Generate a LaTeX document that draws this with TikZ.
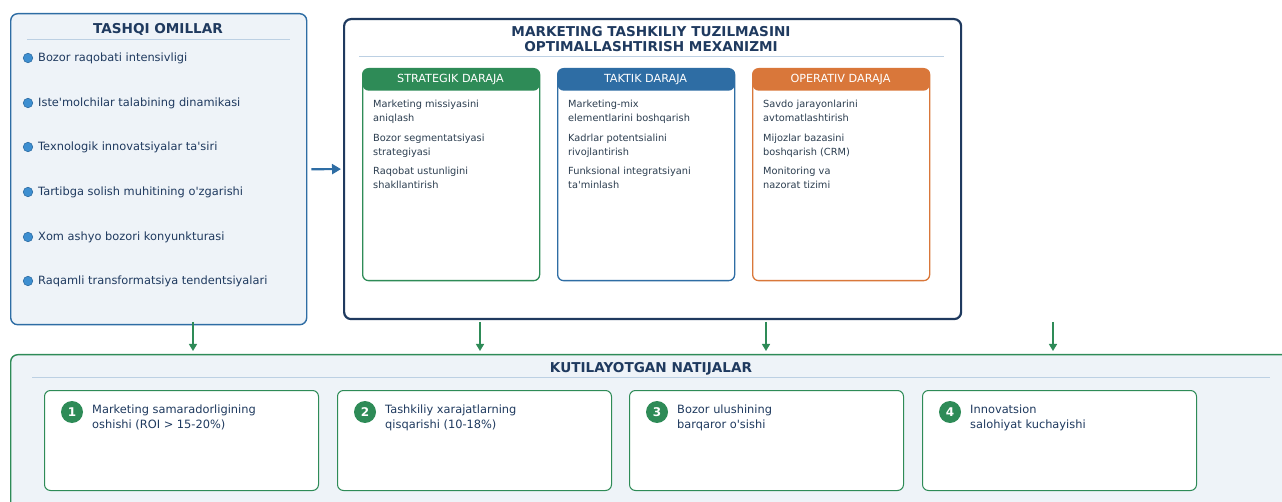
\documentclass[tikz,border=0pt]{standalone}
\usepackage{fontspec}
\setmainfont{DejaVu Sans}
\usetikzlibrary{arrows.meta}
\definecolor{cnavy}{HTML}{1F3A5F}
\definecolor{ctext}{HTML}{2C3E50}
\definecolor{cpanel}{HTML}{EEF3F8}
\definecolor{cblue}{HTML}{2E6DA4}
\definecolor{cgreen}{HTML}{2E8B57}
\definecolor{corange}{HTML}{D9773A}
\definecolor{cbullet}{HTML}{3D8FD1}
\definecolor{csep}{HTML}{BCD0E3}
\newcommand\ap{\textquotesingle}
\begin{document}
\begin{tikzpicture}[x=1pt,y=-1pt,
  panel/.style={rectangle, rounded corners=7pt, inner sep=0, anchor=north west, line width=1.4pt},
  ttl/.style={font=\fontsize{13.6}{15.5}\selectfont\bfseries, text=cnavy, inner sep=0, anchor=base, align=center},
  sepline/.style={draw=csep, line width=1pt},
  listitem/.style={font=\fontsize{11.4}{14}\selectfont, text=cnavy, inner sep=0, anchor=base west},
  bullet/.style={circle, fill=cbullet, draw=cblue, line width=0.6pt, minimum size=9.5pt, inner sep=0},
  lvl/.style={rectangle, rounded corners=6pt, draw=#1, line width=1.3pt, fill=white, anchor=north west,
    minimum width=177pt, minimum height=212pt, inner sep=0,
    path picture={\fill[#1] (path picture bounding box.north west) rectangle ([yshift=-22pt]path picture bounding box.north east);}},
  lvlhead/.style={font=\fontsize{11.2}{13}\selectfont, text=white, inner sep=0, anchor=base},
  lvlitem/.style={font=\fontsize{9.8}{14}\selectfont, text=ctext, inner sep=0, anchor=base west, align=left},
  card/.style={rectangle, rounded corners=6pt, draw=cgreen, line width=1pt, fill=white, anchor=north west,
    minimum width=274pt, minimum height=100pt, inner sep=0},
  num/.style={circle, fill=cgreen, minimum size=22pt, inner sep=0, text=white, font=\fontsize{12}{12}\selectfont\bfseries},
  cardtext/.style={font=\fontsize{11.4}{14}\selectfont, text=cnavy, anchor=base west, align=left, inner sep=0},
  garrow/.style={draw=cgreen, line width=1.4pt, -{Triangle[length=7pt,width=8pt]}},
  barrow/.style={draw=cblue, line width=2.2pt, -{Triangle[length=9pt,width=10pt]}}
]
\useasboundingbox (0,0) rectangle (1282,502);
\clip (0,0) rectangle (1282,502);

% ---------- left panel ----------
\node[panel, draw=cblue, fill=cpanel, minimum width=296pt, minimum height=311pt] (ext) at (10,13) {};
\node[ttl] (extT) at (158,34) {TASHQI OMILLAR};
\draw[sepline] (27,40) -- (290,40);
\node[bullet] (b1) at (28,58) {};  \node[listitem] (t1) at (38,62) {Bozor raqobati intensivligi};
\node[bullet] (b2) at (28,103) {}; \node[listitem] (t2) at (38,107) {Iste\ap molchilar talabining dinamikasi};
\node[bullet] (b3) at (28,147) {}; \node[listitem] (t3) at (38,151) {Texnologik innovatsiyalar ta\ap siri};
\node[bullet] (b4) at (28,192) {}; \node[listitem] (t4) at (38,196) {Tartibga solish muhitining o\ap zgarishi};
\node[bullet] (b5) at (28,237) {}; \node[listitem] (t5) at (38,241) {Xom ashyo bozori konyunkturasi};
\node[bullet] (b6) at (28,281) {}; \node[listitem] (t6) at (38,285) {Raqamli transformatsiya tendentsiyalari};

% ---------- middle panel ----------
\node[panel, draw=cnavy, fill=white, line width=2.2pt, minimum width=617pt, minimum height=300pt] (mech) at (343,18) {};
\node[ttl] (mechT) at (651,52) {MARKETING TASHKILIY TUZILMASINI\\OPTIMALLASHTIRISH MEXANIZMI};
\draw[sepline] (359,57) -- (944,57);

\node[lvl=cgreen] (s) at (362,68) {};
\node[lvlhead] (sh) at (450.5,83) {STRATEGIK DARAJA};
\node[lvlitem] (s1) at (373,121.5) {Marketing missiyasini\\aniqlash};
\node[lvlitem] (s2) at (373,155.5) {Bozor segmentatsiyasi\\strategiyasi};
\node[lvlitem] (s3) at (373,189) {Raqobat ustunligini\\shakllantirish};

\node[lvl=cblue] (k) at (557,68) {};
\node[lvlhead] (kh) at (645.5,83) {TAKTIK DARAJA};
\node[lvlitem] (k1) at (568,121.5) {Marketing-mix\\elementlarini boshqarish};
\node[lvlitem] (k2) at (568,155.5) {Kadrlar potentsialini\\rivojlantirish};
\node[lvlitem] (k3) at (568,189) {Funksional integratsiyani\\ta\ap minlash};

\node[lvl=corange] (o) at (752,68) {};
\node[lvlhead] (oh) at (840.5,83) {OPERATIV DARAJA};
\node[lvlitem] (o1) at (763,121.5) {Savdo jarayonlarini\\avtomatlashtirish};
\node[lvlitem] (o2) at (763,155.5) {Mijozlar bazasini\\boshqarish (CRM)};
\node[lvlitem] (o3) at (763,189) {Monitoring va\\nazorat tizimi};

\draw[barrow, shorten <=4pt, shorten >=2pt] (ext.east) -- (mech.west);

% ---------- bottom panel ----------
\node[panel, draw=cgreen, fill=cpanel, minimum width=1320pt, minimum height=200pt] (res) at (10,354) {};
\node[ttl] (resT) at (651,372.5) {KUTILAYOTGAN NATIJALAR};
\draw[sepline] (32,378) -- (1270,378);

\coordinate (d1a) at (193,322); \coordinate (d1b) at (193,351);
\coordinate (d2a) at (480,322); \coordinate (d2b) at (480,351);
\coordinate (d3a) at (766,322); \coordinate (d3b) at (766,351);
\coordinate (d4a) at (1053,322); \coordinate (d4b) at (1053,351);
\draw[garrow] (d1a) -- (d1b);
\draw[garrow] (d2a) -- (d2b);
\draw[garrow] (d3a) -- (d3b);
\draw[garrow] (d4a) -- (d4b);

\node[card] (c1) at (44,390) {};
\node[num] (n1) at (72,412) {1};
\node[cardtext] (ct1) at (92,428) {Marketing samaradorligining\\oshishi (ROI > 15-20\%)};
\node[card] (c2) at (337,390) {};
\node[num] (n2) at (365,412) {2};
\node[cardtext] (ct2) at (385,428) {Tashkiliy xarajatlarning\\qisqarishi (10-18\%)};
\node[card] (c3) at (629,390) {};
\node[num] (n3) at (657,412) {3};
\node[cardtext] (ct3) at (677,428) {Bozor ulushining\\barqaror o\ap sishi};
\node[card] (c4) at (922,390) {};
\node[num] (n4) at (950,412) {4};
\node[cardtext] (ct4) at (970,428) {Innovatsion\\salohiyat kuchayishi};
\end{tikzpicture}
\end{document}
